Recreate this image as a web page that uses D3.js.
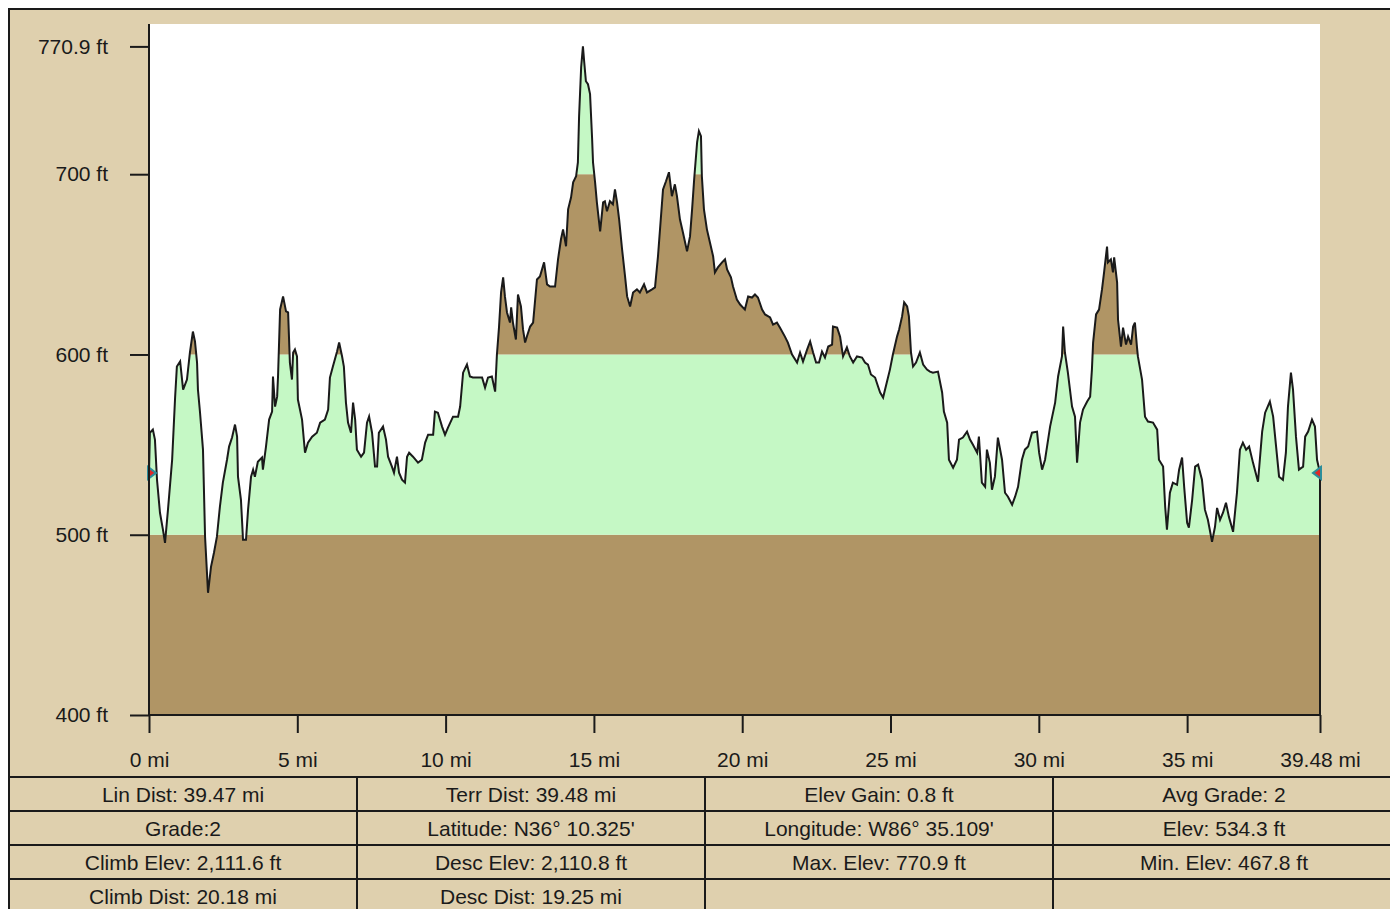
<!DOCTYPE html>
<html>
<head>
<meta charset="utf-8">
<script src="https://cdn.jsdelivr.net/npm/d3@7"></script>
<style>
  html, body { margin: 0; padding: 0; background: #ffffff; }
  svg { display: block; }
  text { font-family: "Liberation Sans", Arial, sans-serif; }
</style>
</head>
<body>
<svg id="chart" width="1390" height="909"></svg>
<script>
// ---------------- DATA ----------------
const distMi = [
0,0.03,0.13,0.20,0.27,0.37,0.47,0.54,0.64,0.78,
0.88,0.94,1.05,1.15,1.28,1.38,1.48,1.55,1.62,1.65,
1.72,1.82,1.89,1.99,2.09,2.19,2.29,2.39,2.49,2.63,
2.70,2.80,2.90,2.97,3.00,3.10,3.17,3.27,3.34,3.44,
3.51,3.57,3.67,3.81,3.84,3.94,4.05,4.15,4.18,4.25,
4.32,4.35,4.42,4.52,4.62,4.69,4.75,4.82,4.86,4.92,
4.99,5.02,5.16,5.26,5.36,5.50,5.66,5.77,5.93,6.04,
6.10,6.20,6.34,6.41,6.51,6.57,6.64,6.71,6.81,6.88,
6.95,7.01,7.15,7.25,7.35,7.42,7.52,7.62,7.69,7.75,
7.89,7.99,8.06,8.19,8.26,8.36,8.43,8.53,8.63,8.70,
8.77,8.90,9.07,9.20,9.31,9.41,9.58,9.64,9.74,9.88,
9.98,10.08,10.25,10.42,10.49,10.59,10.72,10.82,10.92,11.23,
11.33,11.43,11.56,11.67,11.73,11.80,11.87,11.94,12.00,12.07,
12.17,12.21,12.27,12.37,12.44,12.54,12.61,12.68,12.74,12.85,
12.95,13.08,13.18,13.32,13.42,13.52,13.69,13.79,13.89,13.96,
14.06,14.13,14.23,14.30,14.40,14.46,14.50,14.57,14.63,14.67,
14.73,14.80,14.87,14.94,14.97,15.04,15.10,15.21,15.31,15.37,
15.44,15.54,15.64,15.71,15.78,15.85,15.95,16.05,16.12,16.22,
16.32,16.45,16.55,16.69,16.79,16.96,17.06,17.16,17.33,17.43,
17.53,17.63,17.73,17.80,17.90,18.00,18.14,18.24,18.31,18.38,
18.48,18.54,18.61,18.64,18.71,18.81,18.91,19.02,19.08,19.18,
19.32,19.42,19.49,19.62,19.69,19.82,19.93,20.09,20.20,20.33,
20.43,20.53,20.67,20.77,20.94,21.04,21.17,21.27,21.44,21.54,
21.68,21.85,21.95,22.05,22.19,22.29,22.39,22.49,22.59,22.69,
22.79,22.90,23.03,23.06,23.20,23.30,23.40,23.53,23.63,23.74,
23.87,24.04,24.14,24.24,24.34,24.48,24.58,24.65,24.75,24.88,
24.98,25.08,25.22,25.29,25.39,25.46,25.56,25.62,25.69,25.76,
25.86,25.99,26.10,26.23,26.33,26.43,26.60,26.74,26.80,26.91,
26.97,27.11,27.24,27.31,27.44,27.58,27.68,27.78,27.92,27.98,
28.08,28.19,28.25,28.35,28.42,28.52,28.62,28.76,28.86,28.96,
29.10,29.20,29.30,29.43,29.53,29.64,29.77,29.94,30.01,30.11,
30.21,30.38,30.55,30.65,30.78,30.82,30.88,30.98,31.12,31.22,
31.29,31.39,31.49,31.63,31.73,31.79,31.83,31.93,32.03,32.13,
32.20,32.30,32.33,32.43,32.50,32.54,32.64,32.67,32.77,32.84,
32.94,33.01,33.11,33.18,33.24,33.31,33.34,33.48,33.58,33.68,
33.85,33.99,34.05,34.19,34.26,34.32,34.42,34.52,34.66,34.73,
34.83,34.90,35.00,35.06,35.17,35.27,35.37,35.50,35.60,35.70,
35.84,35.94,36.01,36.11,36.21,36.31,36.41,36.55,36.68,36.78,
36.88,36.99,37.09,37.22,37.39,37.53,37.63,37.79,37.90,38.00,
38.10,38.23,38.33,38.40,38.50,38.57,38.67,38.77,38.91,38.98,
39.08,39.21,39.31,39.38,39.48
];

const elevFt = [
534.3,556.6,558.3,552.8,530.5,512.2,502.8,495.5,513.9,541.6,
576.1,593.3,596.1,580.5,586.1,601.1,612.7,607.2,595.5,580.5,
567.8,547.2,498.9,467.8,482.2,490.0,498.9,515.5,528.9,541.6,
548.9,553.9,561.1,554.4,532.2,519.4,497.2,497.2,513.9,532.2,
536.1,532.2,540.5,542.8,536.1,548.3,563.9,568.3,587.8,571.1,
576.6,587.8,625.0,632.2,623.9,623.3,595.5,586.1,601.1,602.8,
598.9,575.0,563.9,545.5,551.1,554.4,556.6,562.2,563.9,569.4,
587.2,593.3,601.6,606.6,598.9,593.3,573.3,562.2,556.6,573.3,
563.9,547.2,543.3,545.5,562.2,565.6,556.6,537.8,537.8,556.6,
560.0,552.8,543.3,537.8,534.4,543.3,534.4,530.5,528.9,543.3,
545.5,543.3,540.0,541.6,551.1,555.5,555.5,568.3,567.7,560.0,
555.5,559.4,565.5,565.5,571.1,589.9,594.4,587.8,587.2,587.2,
581.6,587.2,587.8,579.4,600.0,615.0,634.4,642.8,632.2,623.3,
617.7,626.1,617.7,608.3,633.3,626.6,613.9,606.6,610.0,615.5,
617.7,641.6,643.3,651.1,638.9,637.7,637.7,652.8,663.9,669.4,
660.0,680.5,687.2,695.5,698.9,706.6,732.2,759.4,770.9,762.8,
751.6,749.9,744.4,719.4,706.6,695.5,684.4,668.3,684.4,685.0,
679.4,685.0,683.3,691.6,684.4,675.0,658.3,643.3,632.2,626.6,
634.4,636.1,634.4,638.9,634.4,636.1,637.2,654.4,691.6,696.1,
701.1,687.8,694.4,687.8,675.0,667.8,657.2,665.5,680.5,697.2,
717.8,723.9,721.1,698.9,680.5,669.4,662.2,654.4,645.5,648.3,
651.1,652.8,647.2,642.8,637.7,630.5,627.7,624.9,632.2,631.6,
633.3,631.6,624.9,622.2,620.5,616.6,617.7,614.9,609.9,606.6,
600.0,595.5,601.1,596.1,602.8,607.2,601.1,595.5,595.5,601.6,
598.3,604.4,605.5,615.5,614.9,609.9,598.9,603.9,598.9,595.5,
598.9,598.3,595.5,594.4,588.9,587.2,582.2,578.9,576.1,584.9,
591.6,600.0,609.9,613.9,621.1,628.9,626.6,621.1,601.1,593.3,
595.5,601.1,594.4,591.6,590.5,589.9,590.5,578.9,568.3,562.2,
541.6,537.2,541.6,552.8,553.9,557.2,552.8,549.9,545.5,554.4,
528.9,526.6,547.2,539.9,525.0,532.2,553.9,541.6,523.3,521.1,
516.6,521.1,526.6,541.6,547.2,548.9,556.6,557.2,545.5,536.1,
541.6,560.0,573.3,587.8,598.9,615.5,601.1,589.9,571.1,565.5,
540.0,562.2,569.4,573.9,576.6,591.6,606.6,622.2,624.9,636.1,
645.5,659.9,651.1,652.8,645.5,653.9,639.9,619.4,604.4,614.9,
605.5,609.9,605.5,615.5,617.7,603.9,598.9,586.1,565.5,562.8,
562.2,558.3,541.6,537.8,515.5,502.8,523.3,528.9,527.7,536.1,
542.8,526.6,506.6,503.9,519.4,537.8,538.9,530.5,513.9,508.3,
496.1,504.4,514.9,508.3,512.2,517.7,509.9,501.6,523.3,547.2,
551.1,547.2,548.9,540.0,529.4,557.2,567.7,573.9,565.5,548.9,
532.2,530.5,545.5,571.1,589.9,580.5,554.4,536.1,537.8,554.4,
557.2,563.9,560.0,541.6,534.3
];

const bandBreaks = [400, 500, 600, 700, 800];
const yTickValues = [400, 500, 600, 700, 770.9];
const yTickLabels = ["400 ft", "500 ft", "600 ft", "700 ft", "770.9 ft"];
const xTickValues = [0, 5, 10, 15, 20, 25, 30, 35, 39.48];
const xTickLabels = ["0 mi", "5 mi", "10 mi", "15 mi", "20 mi", "25 mi", "30 mi", "35 mi", "39.48 mi"];

const statsRow1 = ["Lin Dist: 39.47 mi", "Terr Dist: 39.48 mi", "Elev Gain: 0.8 ft", "Avg Grade: 2"];
const statsRow2 = ["Grade:2", "Latitude: N36\u00b0 10.325'", "Longitude: W86\u00b0 35.109'", "Elev: 534.3 ft"];
const statsRow3 = ["Climb Elev: 2,111.6 ft", "Desc Elev: 2,110.8 ft", "Max. Elev: 770.9 ft", "Min. Elev: 467.8 ft"];
const statsRow4 = ["Climb Dist: 20.18 mi", "Desc Dist: 19.25 mi", "", ""];

// ---------------- STYLE / LAYOUT ----------------
const BEIGE = "#dfd0ae", BROWN = "#b09565", GREEN = "#c5f8c5", INK = "#1a1a1a";
const FONT = 21;
const plot = { left: 149, right: 1320, top: 24, bottom: 715 };

const svg = d3.select("#chart");
const n = Math.min(distMi.length, elevFt.length);
const pts = d3.range(n).map(i => ({ d: distMi[i], e: elevFt[i] }));

const x = d3.scaleLinear().domain([0, 39.48]).range([plot.left, plot.right]);
const y = d3.scaleLinear().domain([400, 770.9]).range([plot.bottom, 46.4]);

// frame background
svg.append("rect").attr("x", 9).attr("y", 9).attr("width", 1400).attr("height", 1000)
  .attr("fill", BEIGE).attr("stroke", INK).attr("stroke-width", 2);

// plot background
svg.append("rect").attr("x", plot.left).attr("y", plot.top)
  .attr("width", plot.right - plot.left).attr("height", plot.bottom - plot.top)
  .attr("fill", "#ffffff");

// area clip
const area = d3.area().x(p => x(p.d)).y0(y(400)).y1(p => y(p.e));
svg.append("clipPath").attr("id", "profileClip")
  .append("path").attr("d", area(pts));

const bands = d3.range(bandBreaks.length - 1).map(i => ({ lo: bandBreaks[i], hi: bandBreaks[i + 1], c: i % 2 === 0 ? BROWN : GREEN }));
svg.append("g").attr("clip-path", "url(#profileClip)")
  .selectAll("rect").data(bands).join("rect")
  .attr("x", plot.left).attr("width", plot.right - plot.left)
  .attr("y", b => y(b.hi)).attr("height", b => y(b.lo) - y(b.hi))
  .attr("fill", b => b.c);

// profile line
const line = d3.line().x(p => x(p.d)).y(p => y(p.e));
svg.append("path").attr("d", line(pts)).attr("fill", "none")
  .attr("stroke", INK).attr("stroke-width", 2).attr("stroke-linejoin", "miter");
// closing edge at the end
const last = pts[n - 1];
svg.append("line").attr("x1", x(last.d)).attr("x2", x(last.d))
  .attr("y1", y(last.e)).attr("y2", y(400)).attr("stroke", INK).attr("stroke-width", 2);

// start / end markers
const first = pts[0];
const mk = (cx, cy, dir) => `M${cx},${cy - 6} L${cx + dir * 8},${cy} L${cx},${cy + 6} Z`;
svg.append("path").attr("d", mk(x(first.d) - 1, y(first.e), 1))
  .attr("fill", "#e02828").attr("stroke", "#2b8d9b").attr("stroke-width", 2);
svg.append("path").attr("d", mk(x(last.d) + 1, y(last.e), -1))
  .attr("fill", "#e02828").attr("stroke", "#2b8d9b").attr("stroke-width", 2);

// axes lines
svg.append("line").attr("x1", plot.left).attr("x2", plot.left).attr("y1", plot.top).attr("y2", plot.bottom)
  .attr("stroke", INK).attr("stroke-width", 2);
svg.append("line").attr("x1", plot.left).attr("x2", plot.right).attr("y1", plot.bottom).attr("y2", plot.bottom)
  .attr("stroke", INK).attr("stroke-width", 2);

// y axis
const yAxis = d3.axisLeft(y).tickValues(yTickValues)
  .tickFormat((d, i) => yTickLabels[i]).tickSize(19).tickPadding(22).tickSizeOuter(0);
const gy = svg.append("g").attr("transform", `translate(${plot.left},0)`).call(yAxis);
gy.select(".domain").remove();
gy.selectAll(".tick line").attr("stroke", INK).attr("stroke-width", 2);
gy.selectAll(".tick text").attr("fill", INK).style("font-size", FONT + "px")
  .style("font-family", "'Liberation Sans', Arial, sans-serif");

// x axis
const xAxis = d3.axisBottom(x).tickValues(xTickValues)
  .tickFormat((d, i) => xTickLabels[i]).tickSize(18).tickPadding(19).tickSizeOuter(0);
const gx = svg.append("g").attr("transform", `translate(0,${plot.bottom})`).call(xAxis);
gx.select(".domain").remove();
gx.selectAll(".tick line").attr("stroke", INK).attr("stroke-width", 2);
gx.selectAll(".tick text").attr("fill", INK).style("font-size", FONT + "px")
  .style("font-family", "'Liberation Sans', Arial, sans-serif");

// stats table
const rows = [statsRow1, statsRow2, statsRow3, statsRow4];
const rowTops = [777, 811, 845, 879];
const colEdges = [9, 357, 705, 1053, 1395];
const tg = svg.append("g");
rowTops.forEach(ry => {
  tg.append("line").attr("x1", 9).attr("x2", 1390).attr("y1", ry).attr("y2", ry)
    .attr("stroke", INK).attr("stroke-width", 2);
});
colEdges.slice(1, 4).forEach(cx => {
  tg.append("line").attr("x1", cx).attr("x2", cx).attr("y1", 777).attr("y2", 909)
    .attr("stroke", INK).attr("stroke-width", 2);
});
rows.forEach((r, ri) => {
  r.forEach((txt, ci) => {
    if (!txt) return;
    tg.append("text")
      .attr("x", (colEdges[ci] + colEdges[ci + 1]) / 2)
      .attr("y", rowTops[ri] + 24.5)
      .attr("text-anchor", "middle")
      .attr("fill", INK)
      .style("font-size", FONT + "px")
      .text(txt);
  });
});
</script>
</body>
</html>
